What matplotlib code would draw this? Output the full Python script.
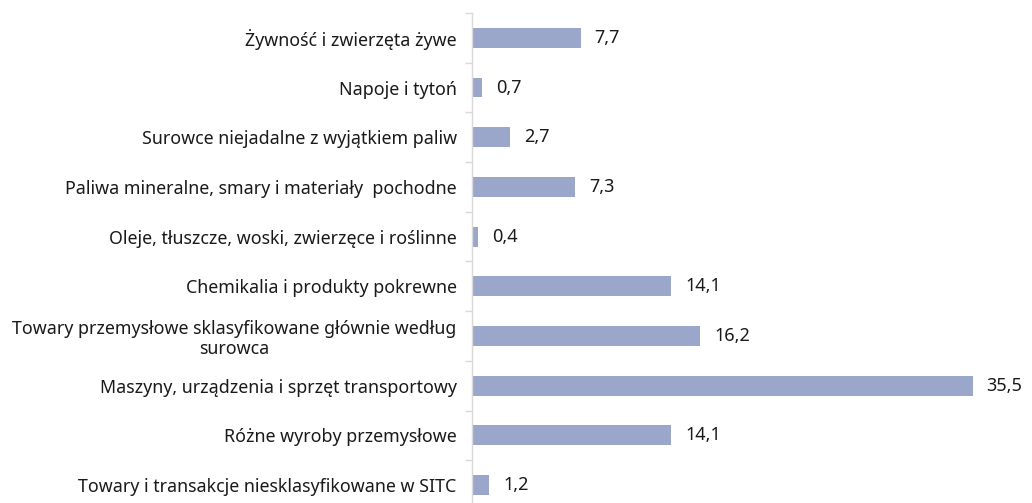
import matplotlib.pyplot as plt

kategorie = [
    'Żywność i zwierzęta żywe',
    'Napoje i tytoń',
    'Surowce niejadalne z wyjątkiem paliw',
    'Paliwa mineralne, smary i materiały  pochodne',
    'Oleje, tłuszcze, woski, zwierzęce i roślinne',
    'Chemikalia i produkty pokrewne',
    'Towary przemysłowe sklasyfikowane głównie według\nsurowca',
    'Maszyny, urządzenia i sprzęt transportowy',
    'Różne wyroby przemysłowe',
    'Towary i transakcje niesklasyfikowane w SITC',
]
wartosci = [7.7, 0.7, 2.7, 7.3, 0.4, 14.1, 16.2, 35.5, 14.1, 1.2]

plt.rcParams['font.family'] = ['Noto Sans', 'DejaVu Sans']

fig = plt.figure(figsize=(10.32, 5.03), dpi=100)
ax = fig.add_axes([472 / 1032, 0, (1032 - 472) / 1032, 1 - 13 / 503])

pozycje = list(range(len(kategorie)))
ax.barh(pozycje, wartosci, height=0.4, color='#9BA6CB')

for y, v in zip(pozycje, wartosci):
    ax.text(v + 1.0, y, f'{v:.1f}'.replace('.', ','), va='center', ha='left',
            fontsize=13, color='#1a1a1a')

ax.set_yticks(pozycje)
ax.set_yticklabels(kategorie, fontsize=12.8, color='#1a1a1a', linespacing=1.15)
for lab in ax.get_yticklabels():
    lab.set_multialignment('center')
ax.tick_params(axis='y', length=0, pad=11)
ax.set_yticks([i + 0.5 for i in range(-1, len(kategorie))], minor=True)
ax.tick_params(axis='y', which='minor', length=5, color='#D9D9D9', width=1)

# limity po ustawieniu ticków (set_yticks rozszerza zakres)
ax.set_ylim(9.36, -0.5)
ax.set_xlim(0, (1032 - 472) / 14.1)

ax.set_xticks([])
for s in ['top', 'right', 'bottom']:
    ax.spines[s].set_visible(False)
ax.spines['left'].set_color('#D9D9D9')
ax.spines['left'].set_linewidth(1)

fig.savefig('out.png', dpi=100)
